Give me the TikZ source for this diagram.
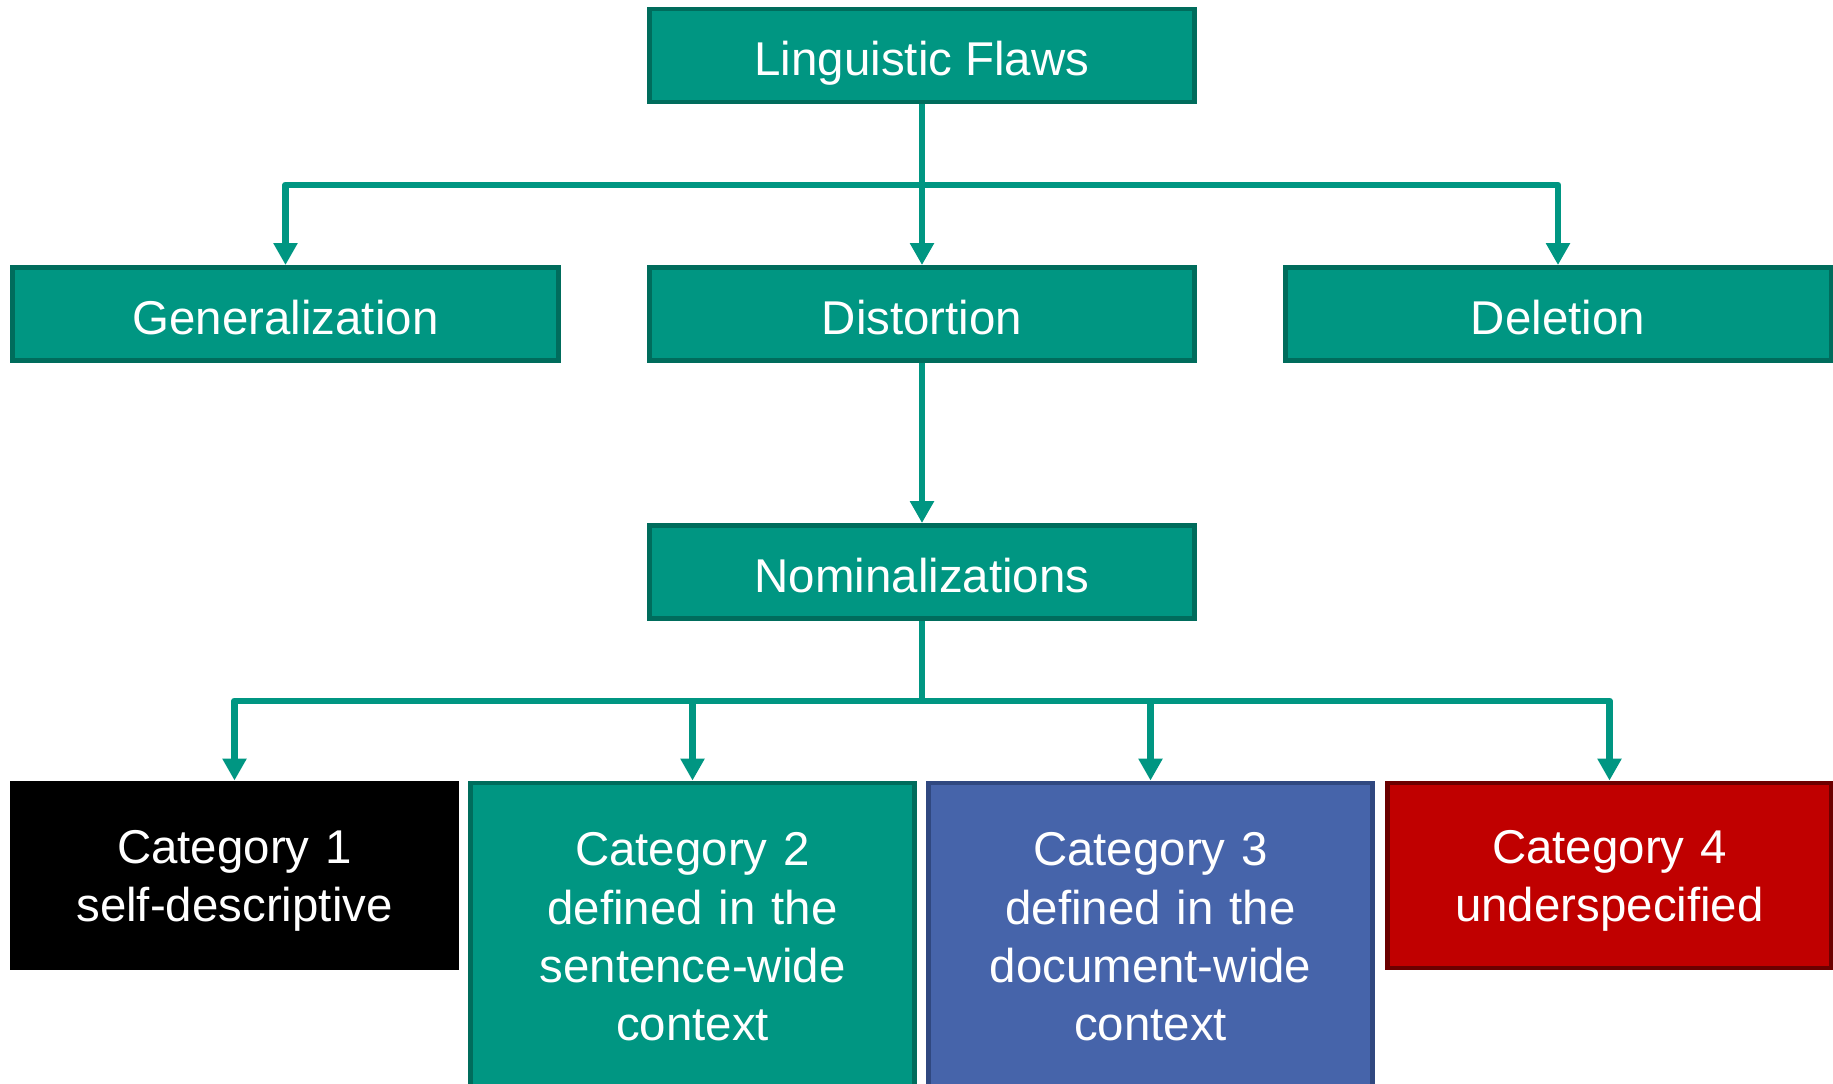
\documentclass[tikz,border=0pt]{standalone}
\usepackage{fontspec}
\setmainfont{Liberation Sans}
\usetikzlibrary{calc,arrows.meta}

\definecolor{flawgreen}{RGB}{0,150,130}
\definecolor{flawline}{RGB}{0,108,92}
\definecolor{catblue}{RGB}{70,100,170}
\definecolor{catblueline}{RGB}{48,72,128}
\definecolor{catred}{RGB}{192,0,0}
\definecolor{catredline}{RGB}{108,0,0}

\tikzset{
  box/.style={draw=flawline, fill=flawgreen, line width=2.8pt, text=white, align=center,
    minimum width=10.92cm, minimum height=1.86cm, font=\fontsize{27}{33.2}\selectfont},
  flawbox/.style={box, text height=22.8pt, text depth=0pt},
  catbox/.style={box, minimum width=8.88cm, minimum height=3.7cm, text width=8.4cm},
  shortcat/.style={catbox, text height=25pt, text depth=38.6pt},
  link/.style={draw=flawgreen, line width=3.6pt, line join=round,
    -{Triangle[width=0.46cm,length=0.44cm]}}
}

\begin{document}
\begin{tikzpicture}[x=0.02cm, y=-0.02cm]
\clip (0,0) rectangle (1833,1084);

\node[flawbox] (flaws) at (922, 55.5) {Linguistic Flaws};
\node[flawbox] (gen) at (285.5, 314) {Generalization};
\node[flawbox] (dist) at (922, 314) {Distortion};
\node[flawbox] (del) at (1558, 314) {Deletion};
\node[flawbox] (nom) at (922, 572) {Nominalizations};

\node[shortcat, fill=black, draw=black] (cat1) at (234.5, 875.5) {Category 1\\self-descriptive};
\node[catbox, minimum height=6.16cm] (cat2) at (692.5, 937) {Category 2\\defined in the\\sentence-wide\\context};
\node[catbox, minimum height=6.16cm, fill=catblue, draw=catblueline] (cat3) at (1150.5, 937) {Category 3\\defined in the\\document-wide\\context};
\node[shortcat, fill=catred, draw=catredline] (cat4) at (1609.5, 875.5) {Category 4\\underspecified};

% first level
\coordinate (split1) at ($(flaws.south)!0.5!(dist.north)$);
\draw[link] (flaws.south) -- (dist.north);
\draw[link] (flaws.south) -- (split1) -| (gen.north);
\draw[link] (flaws.south) -- (split1) -| (del.north);
\draw[link] (dist.south) -- (nom.north);

% categories
\coordinate (split2) at ($(nom.south)!0.5!(nom.south |- cat1.north)$);
\draw[link] (nom.south) -- (split2) -| (cat1.north);
\draw[link] (nom.south) -- (split2) -| (cat2.north);
\draw[link] (nom.south) -- (split2) -| (cat3.north);
\draw[link] (nom.south) -- (split2) -| (cat4.north);

\end{tikzpicture}
\end{document}
